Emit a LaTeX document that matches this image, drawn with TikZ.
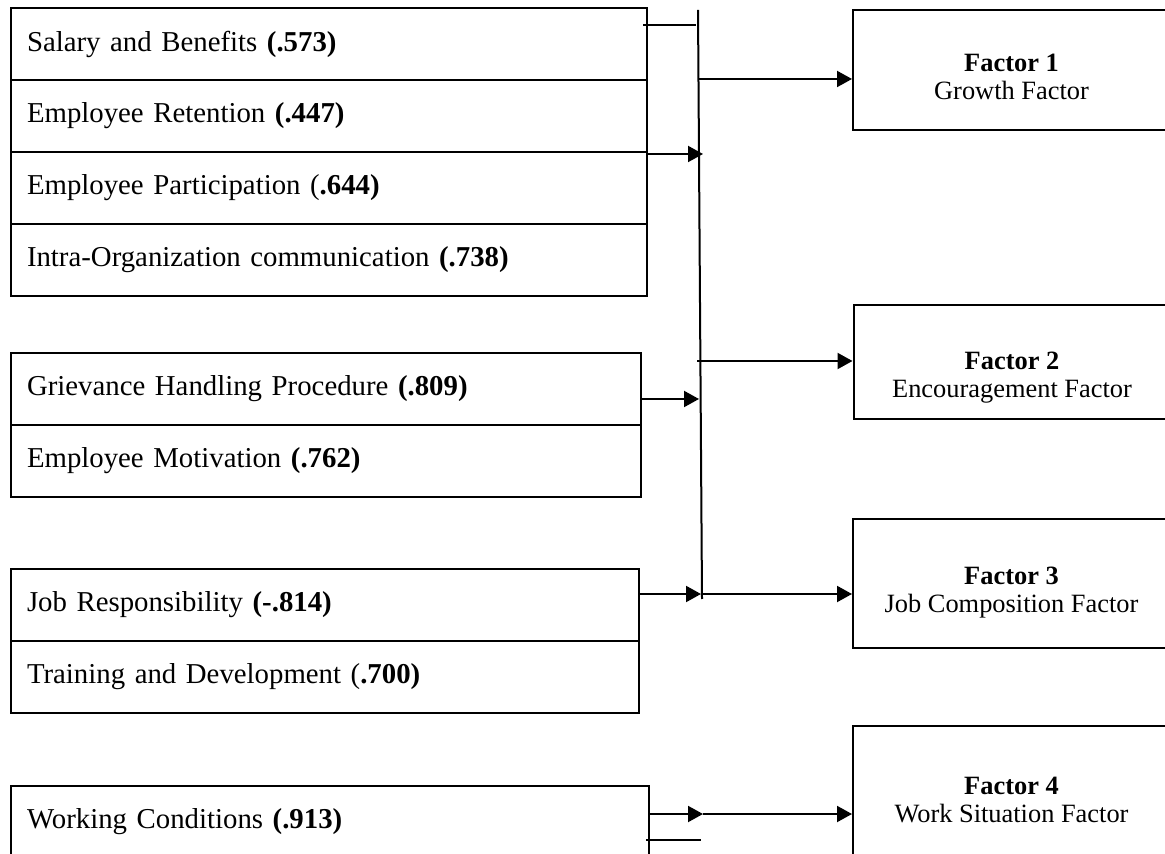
\documentclass[tikz,border=0pt]{standalone}
\usepackage{fontspec}
\setmainfont{Liberation Serif}
\usetikzlibrary{arrows.meta, positioning}
\tikzstyle{item} = [rectangle, line width=1pt, draw=black, minimum height=36pt, inner xsep=8pt, inner ysep=0pt, align=left, font=\fontsize{14.4}{16}\selectfont]
\tikzstyle{factor} = [rectangle, line width=1pt, draw=black, minimum width=158.5pt]
\tikzstyle{factortext} = [inner sep=0pt, align=center, font=\fontsize{13.2}{14}\selectfont]
\tikzstyle{arrow} = [line width=1pt, -{Triangle[length=7.5pt, width=8pt]}]
\tikzstyle{plain} = [line width=1pt]

\begin{document}
\begin{tikzpicture}[x=0.5pt, y=-0.5pt, node distance=36pt]
\useasboundingbox (0,0) rectangle (1165,854);

% items, group 1
\node (salary) [item, text width=302pt] at (329,44) {Salary and Benefits \textbf{(.573)}};
\node (retention) [item, text width=302pt, below of=salary] {Employee Retention \textbf{(.447)}};
\node (participation) [item, text width=302pt, below of=retention] {Employee Participation (\textbf{.644)}};
\node (intra) [item, text width=302pt, below of=participation] {Intra-Organization communication \textbf{(.738)}};

% items, group 2
\node (grievance) [item, text width=299pt] at (326,389) {Grievance Handling Procedure \textbf{(.809)}};
\node (motivation) [item, text width=299pt, below of=grievance] {Employee Motivation \textbf{(.762)}};

% items, group 3
\node (jobresp) [item, text width=298pt] at (325,605) {Job Responsibility \textbf{(-.814)}};
\node (training) [item, text width=298pt, below of=jobresp] {Training and Development (\textbf{.700)}};

% items, group 4
\node (working) [item, text width=303pt] at (330,822) {Working Conditions \textbf{(.913)}};

% factors
\node (f1) [factor, minimum height=60pt] at (1011.5,70) {};
\node (f2) [factor, minimum height=57pt] at (1012,362) {};
\node (f3) [factor, minimum height=64.5pt] at (1011.5,583.5) {};
\node (f4) [factor, minimum height=72pt] at (1011.5,798) {};

\node (f1txt) [factortext, below=22.5pt of f1.north] {\textbf{Factor 1}\\Growth Factor};
\node (f2txt) [factortext, below=24pt of f2.north] {\textbf{Factor 2}\\Encouragement Factor};
\node (f3txt) [factortext, below=24.5pt of f3.north] {\textbf{Factor 3}\\Job Composition Factor};
\node (f4txt) [factortext, below=26pt of f4.north] {\textbf{Factor 4}\\Work Situation Factor};

% junction line
\coordinate (vtop) at (698,10);
\coordinate (vbot) at (702,599);
\coordinate (j1) at (699,79);
\coordinate (j2) at (703,154);
\coordinate (j3) at (697,361);
\coordinate (j4) at (699,399);
\coordinate (j5) at (701,594);
\coordinate (j6) at (703,814);
\coordinate (s1a) at (643,25);
\coordinate (s1b) at (696,25);
\coordinate (s2a) at (646,840);
\coordinate (s2b) at (701,840);

\draw [plain] (vtop) -- (vbot);
\draw [plain] (s1a) -- (s1b);
\draw [arrow] (j1) -- (j1 -| f1.west);
\draw [arrow] (j2 -| participation.east) -- (j2);
\draw [arrow] (j3) -- (j3 -| f2.west);
\draw [arrow] (j4 -| grievance.east) -- (j4);
\draw [arrow] (j5 -| jobresp.east) -- (j5);
\draw [arrow] (j5) -- (j5 -| f3.west);
\draw [arrow] (j6 -| working.east) -- (j6);
\draw [arrow] (j6) -- (j6 -| f4.west);
\draw [plain] (s2a) -- (s2b);

\end{tikzpicture}
\end{document}
